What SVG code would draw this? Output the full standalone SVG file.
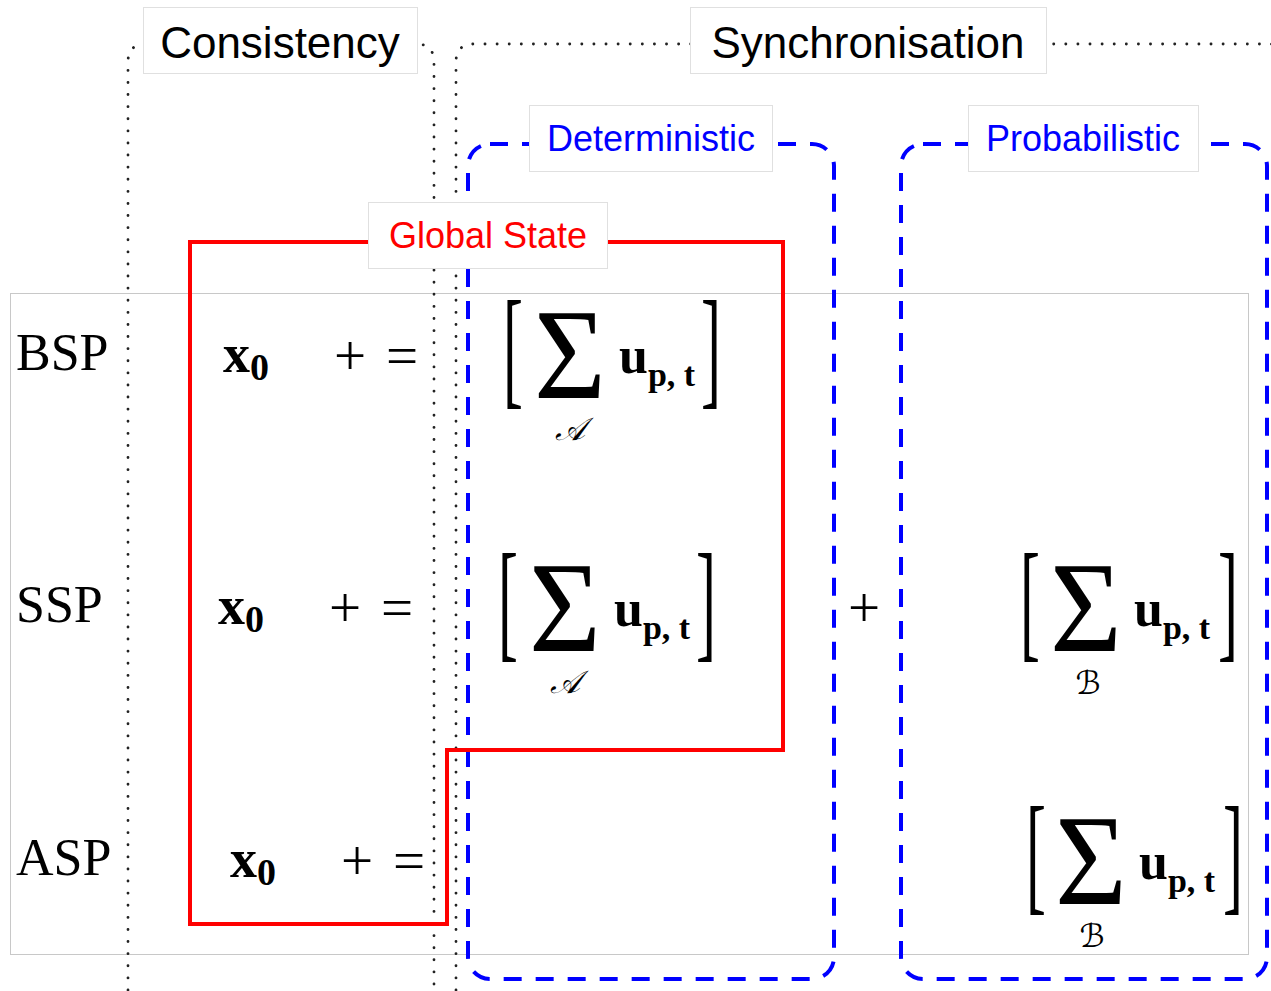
<svg xmlns="http://www.w3.org/2000/svg" width="1271" height="991" viewBox="0 0 1271 991">
<defs>
<style>
.lbl{fill:#fff;stroke:#e0e0e0;stroke-width:1}
.dot{fill:none;stroke:#222;stroke-width:2.8;stroke-linecap:round;stroke-dasharray:0.1 12}
.bdash{fill:none;stroke:#0000ff;stroke-width:4;stroke-dasharray:18 14}
.hdr{font-family:"Liberation Sans",Arial,sans-serif;font-size:44px;fill:#000;text-anchor:middle}
.sub{font-family:"Liberation Sans",Arial,sans-serif;font-size:36px;text-anchor:middle}
.rm{font-family:"Liberation Serif","Times New Roman",serif;fill:#000}
.bf{font-family:"Liberation Serif","Times New Roman",serif;font-weight:bold;fill:#000}
.scr{font-family:"DejaVu Serif","DejaVu Sans",serif;font-style:italic;fill:#000;text-anchor:middle;font-size:32px}
</style>
</defs>
<rect x="10.5" y="293.5" width="1238" height="661" fill="none" stroke="#c8c8c8" stroke-width="1"/>
<g id="consistency">
<path class="dot" d="M128 990 V62 Q128 44 146 44 H416 Q434 44 434 62 V990"/>
<rect class="lbl" x="143.5" y="7.5" width="274" height="66"/>
<text class="hdr" x="280" y="58">Consistency</text>
</g>
<g id="synchronisation">
<path class="dot" d="M456 990 V62 Q456 44 474 44 H1290"/>
<rect class="lbl" x="690.5" y="7.5" width="356" height="66"/>
<text class="hdr" x="868" y="58">Synchronisation</text>
</g>
<g id="deterministic">
<rect class="bdash" x="468" y="144" width="366" height="835" rx="22"/>
<rect class="lbl" x="529.5" y="105.5" width="243" height="66"/>
<text class="sub" x="651" y="151" fill="#0000ff">Deterministic</text>
</g>
<g id="probabilistic">
<rect class="bdash" x="901" y="144" width="366" height="835" rx="22"/>
<rect class="lbl" x="968.5" y="105.5" width="230" height="66"/>
<text class="sub" x="1083" y="151" fill="#0000ff">Probabilistic</text>
</g>
<g id="global-state">
<path d="M190 242 H783 V750 H447 V924 H190 Z" fill="none" stroke="#ff0000" stroke-width="4"/>
<rect class="lbl" x="368.5" y="202.5" width="239" height="66"/>
<text class="sub" x="488" y="248" fill="#ff0000">Global State</text>
</g>
<g id="rows">
<text class="rm" x="16" y="370" font-size="52">BSP</text>
<text class="rm" x="16" y="622" font-size="52">SSP</text>
<text class="rm" x="16" y="875" font-size="52">ASP</text>
<text class="bf" x="223" y="372" font-size="54">x<tspan font-size="38" dy="8">0</tspan></text>
<text class="bf" x="218" y="624" font-size="54">x<tspan font-size="38" dy="8">0</tspan></text>
<text class="bf" x="230" y="877" font-size="54">x<tspan font-size="38" dy="8">0</tspan></text>
<text class="rm" x="334" y="375" font-size="57">+</text><text class="rm" x="386" y="375" font-size="57">=</text>
<text class="rm" x="329" y="627" font-size="57">+</text><text class="rm" x="381" y="627" font-size="57">=</text>
<text class="rm" x="341" y="880" font-size="57">+</text><text class="rm" x="393" y="880" font-size="57">=</text>
<text class="rm" x="848" y="627" font-size="57">+</text>
</g>
<g id="sum-bsp-a">
<text class="rm" font-size="60" transform="translate(503 391) scale(1 2.2)">[</text>
<text class="rm" font-size="130" text-anchor="middle" transform="translate(570 398) scale(0.95 1)">Σ</text>
<text class="scr" x="570" y="440">𝒜</text>
<text class="bf" x="619" y="373" font-size="52">u<tspan font-size="34" dy="13">p, t</tspan></text>
<text class="rm" font-size="60" transform="translate(701 391) scale(1 2.2)">]</text>
</g>
<g id="sum-ssp-a">
<text class="rm" font-size="60" transform="translate(498 644) scale(1 2.2)">[</text>
<text class="rm" font-size="130" text-anchor="middle" transform="translate(565 651) scale(0.95 1)">Σ</text>
<text class="scr" x="565" y="693">𝒜</text>
<text class="bf" x="614" y="626" font-size="52">u<tspan font-size="34" dy="13">p, t</tspan></text>
<text class="rm" font-size="60" transform="translate(696 644) scale(1 2.2)">]</text>
</g>
<g id="sum-ssp-b">
<text class="rm" font-size="60" transform="translate(1020 644) scale(1 2.2)">[</text>
<text class="rm" font-size="130" text-anchor="middle" transform="translate(1086 651) scale(0.95 1)">Σ</text>
<text class="scr" x="1088" y="694">ℬ</text>
<text class="bf" x="1134" y="626" font-size="52">u<tspan font-size="34" dy="13">p, t</tspan></text>
<text class="rm" font-size="60" transform="translate(1218 644) scale(1 2.2)">]</text>
</g>
<g id="sum-asp-b">
<text class="rm" font-size="60" transform="translate(1026 897) scale(1 2.2)">[</text>
<text class="rm" font-size="130" text-anchor="middle" transform="translate(1091 904) scale(0.95 1)">Σ</text>
<text class="scr" x="1092" y="947">ℬ</text>
<text class="bf" x="1139" y="879" font-size="52">u<tspan font-size="34" dy="13">p, t</tspan></text>
<text class="rm" font-size="60" transform="translate(1223 897) scale(1 2.2)">]</text>
</g>
<g id="connectors"></g>
</svg>
